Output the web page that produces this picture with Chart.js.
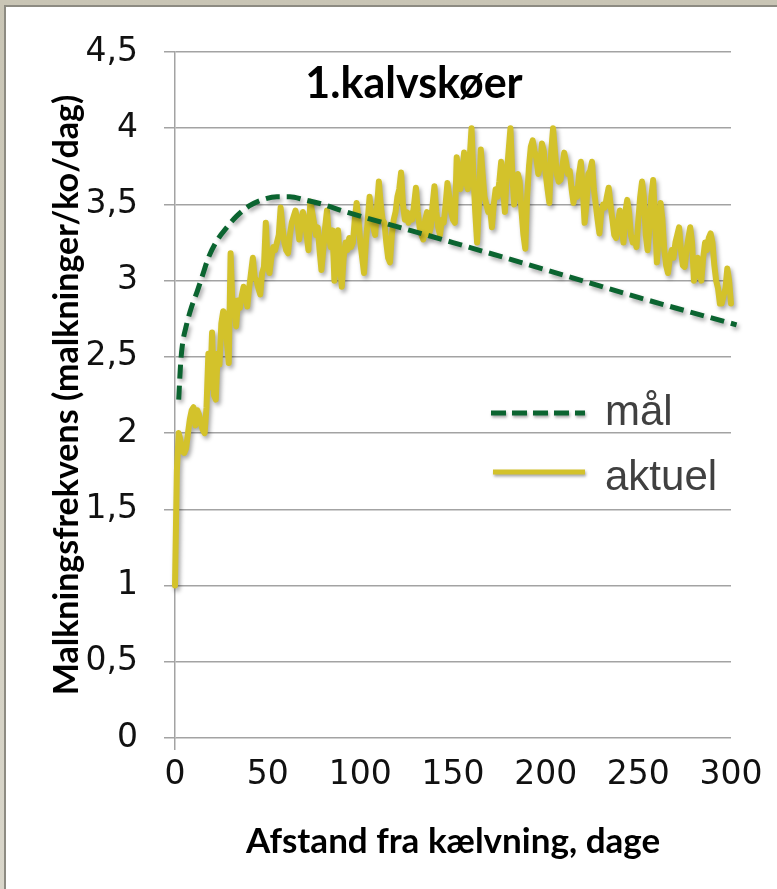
<!DOCTYPE html>
<html>
<head>
<meta charset="utf-8">
<script src="https://cdn.jsdelivr.net/npm/chart.js@4.4.1/dist/chart.umd.min.js"></script>
<style>
  html, body { margin: 0; padding: 0; }
  body { width: 777px; height: 889px; overflow: hidden; position: relative;
         background: linear-gradient(#c9c5b5, #d9d6ca); }
  #panel { position: absolute; left: 4px; top: 5px; right: -10px; bottom: -10px;
           background: #fff; border-left: 2px solid #8d8b82; border-top: 2px solid #8d8b82; }
  #chart { position: absolute; left: 0; top: 0; }
</style>
</head>
<body>
<div id="panel"></div>
<canvas id="chart" width="777" height="889"></canvas>
<script>
const chartTitle = "1.kalvskøer";
const xTitle = "Afstand fra kælvning, dage";
const yTitle = "Malkningsfrekvens (malkninger/ko/dag)";
const seriesNames = ["mål", "aktuel"];
const xTickValues = [0, 50, 100, 150, 200, 250, 300];
const yTickValues = [0, 0.5, 1, 1.5, 2, 2.5, 3, 3.5, 4, 4.5];

// target curve (mål)
const targetDays = [2, 3, 4, 6, 9, 12, 15, 18, 23, 28, 33, 40, 47, 55, 62, 70, 80, 90, 150, 206, 250, 303];
const targetVals = [2.22, 2.45, 2.58, 2.70, 2.83, 2.93, 3.04, 3.15, 3.27, 3.35, 3.42, 3.49, 3.53, 3.55, 3.55, 3.53, 3.50, 3.46, 3.25, 3.05, 2.89, 2.71];

// actual daily values (aktuel), day 0..300
const actualVals = [
  1.00, 1.75, 2.00, 1.95, 1.88, 1.87, 1.90, 2.00, 2.09, 2.15,
  2.17, 2.05, 2.15, 2.12, 2.06, 2.02, 2.00, 2.17, 2.52, 2.30,
  2.66, 2.25, 2.22, 2.52, 2.45, 2.72, 2.80, 2.78, 2.60, 2.46,
  3.18, 2.84, 2.87, 2.70, 2.87, 2.82, 2.90, 2.96, 2.92, 2.83,
  2.95, 3.05, 3.15, 3.02, 3.00, 2.95, 2.91, 3.05, 3.09, 3.38,
  3.10, 3.05, 3.15, 3.22, 3.20, 3.25, 3.30, 3.48, 3.35, 3.25,
  3.20, 3.18, 3.30, 3.38, 3.42, 3.46, 3.40, 3.27, 3.38, 3.45,
  3.40, 3.30, 3.20, 3.52, 3.45, 3.38, 3.30, 3.35, 3.20, 3.07,
  3.20, 3.35, 3.46, 3.30, 3.22, 3.33, 3.00, 3.15, 3.33, 3.10,
  2.96, 3.15, 3.25, 3.20, 3.28, 3.22, 3.25, 3.40, 3.51, 3.40,
  3.25, 3.15, 3.05, 3.25, 3.40, 3.55, 3.42, 3.35, 3.30, 3.48,
  3.65, 3.50, 3.40, 3.38, 3.25, 3.15, 3.12, 3.30, 3.40, 3.45,
  3.55, 3.60, 3.71, 3.50, 3.40, 3.45, 3.38, 3.44, 3.40, 3.50,
  3.61, 3.45, 3.35, 3.30, 3.27, 3.40, 3.45, 3.30, 3.35, 3.50,
  3.62, 3.45, 3.35, 3.30, 3.40, 3.38, 3.50, 3.64, 3.55, 3.45,
  3.40, 3.38, 3.81, 3.70, 3.60, 3.70, 3.84, 3.65, 3.60, 3.80,
  4.00, 3.70, 3.45, 3.25, 3.50, 3.86, 3.70, 3.55, 3.50, 3.45,
  3.48, 3.35, 3.50, 3.60, 3.55, 3.65, 3.78, 3.60, 3.45, 3.70,
  3.85, 4.00, 3.70, 3.50, 3.60, 3.70, 3.65, 3.45, 3.30, 3.21,
  3.55, 3.75, 3.88, 3.92, 3.85, 3.80, 3.70, 3.75, 3.90, 3.85,
  3.70, 3.60, 3.51, 3.85, 4.00, 3.85, 3.70, 3.65, 3.66, 3.75,
  3.84, 3.78, 3.70, 3.72, 3.60, 3.51, 3.60, 3.55, 3.70, 3.78,
  3.60, 3.38, 3.50, 3.70, 3.72, 3.78, 3.60, 3.50, 3.40, 3.31,
  3.45, 3.50, 3.48, 3.55, 3.61, 3.50, 3.40, 3.30, 3.28, 3.38,
  3.46, 3.35, 3.25, 3.45, 3.53, 3.45, 3.30, 3.25, 3.28, 3.22,
  3.40, 3.55, 3.65, 3.55, 3.30, 3.20, 3.35, 3.55, 3.66, 3.40,
  3.12, 3.30, 3.51, 3.40, 3.20, 3.10, 3.05, 3.15, 3.20, 3.15,
  3.25, 3.30, 3.35, 3.20, 3.10, 3.09, 3.20, 3.28, 3.35, 3.25,
  3.00, 3.05, 3.15, 3.05, 3.00, 3.15, 3.25, 3.20, 3.28, 3.31,
  3.25, 3.10, 3.00, 2.95, 2.85, 2.85, 2.90, 2.95, 3.08, 3.00,
  2.85
];

const green = "#0b6430";
const yellow = "#d3c22b";
const gridColor = "#a3a3a3";

const comma = (v) => String(v).replace(".", ",");

// soft drop shadow under the lines, like the original
const shadowPlugin = {
  id: "lineShadow",
  beforeDatasetDraw(chart) {
    const ctx = chart.ctx;
    ctx.save();
    ctx.shadowColor = "rgba(0,0,0,0.35)";
    ctx.shadowBlur = 4;
    ctx.shadowOffsetX = 2;
    ctx.shadowOffsetY = 3;
  },
  afterDatasetDraw(chart) {
    chart.ctx.restore();
  },
};

// title and legend drawn inside the plot area
const overlayPlugin = {
  id: "overlay",
  afterDraw(chart) {
    const { ctx, chartArea } = chart;
    const L = chartArea.left, T = chartArea.top;
    ctx.save();
    ctx.fillStyle = "#000";
    ctx.font = "bold 43px Lato";
    ctx.textAlign = "center";
    ctx.textBaseline = "alphabetic";
    ctx.fillText(chartTitle, L + 239, T + 46);

    ctx.shadowColor = "rgba(0,0,0,0.35)";
    ctx.shadowBlur = 3;
    ctx.shadowOffsetX = 1;
    ctx.shadowOffsetY = 2;
    ctx.lineWidth = 5;
    ctx.strokeStyle = green;
    ctx.setLineDash([15, 6]);
    ctx.beginPath();
    ctx.moveTo(L + 316, T + 361);
    ctx.lineTo(L + 410, T + 361);
    ctx.stroke();
    ctx.setLineDash([]);
    ctx.strokeStyle = yellow;
    ctx.beginPath();
    ctx.moveTo(L + 318, T + 420);
    ctx.lineTo(L + 410, T + 420);
    ctx.stroke();

    ctx.shadowColor = "transparent";
    ctx.fillStyle = "#404040";
    ctx.font = "42px 'Liberation Sans'";
    ctx.textAlign = "left";
    ctx.fillText(seriesNames[0], L + 430, T + 373);
    ctx.fillText(seriesNames[1], L + 430, T + 438);
    ctx.restore();
  },
};

new Chart(document.getElementById("chart"), {
  type: "line",
  data: {
    datasets: [
      {
        label: seriesNames[0],
        data: targetDays.map((d, i) => ({ x: d, y: targetVals[i] })),
        borderColor: green,
        borderWidth: 5,
        borderDash: [14, 7],
        pointRadius: 0,
        cubicInterpolationMode: "monotone",
        fill: false,
        clip: false,
      },
      {
        label: seriesNames[1],
        data: actualVals.map((v, i) => ({ x: i, y: v })),
        borderColor: yellow,
        borderWidth: 6,
        borderJoinStyle: "round",
        borderCapStyle: "round",
        pointRadius: 0,
        tension: 0,
        fill: false,
        clip: false,
      },
    ],
  },
  options: {
    responsive: false,
    animation: false,
    devicePixelRatio: 1,
    layout: { padding: { left: 0, top: 52, right: 46, bottom: 26 } },
    plugins: { legend: { display: false }, tooltip: { enabled: false } },
    scales: {
      x: {
        type: "linear",
        min: 0,
        max: 300,
        afterBuildTicks: (s) => { s.ticks = xTickValues.map((v) => ({ value: v })); },
        afterFit: (s) => { s.height = 125; },
        grid: {
          drawOnChartArea: false,
          drawTicks: true,
          tickLength: 12,
          lineWidth: 1.5,
          color: (c) => (c.index === 0 ? gridColor : "rgba(0,0,0,0)"),
        },
        border: { display: false },
        ticks: {
          color: "#111",
          font: { family: "DejaVu Sans", size: 33 },
          padding: 6,
          maxRotation: 0,
          callback: (v) => comma(v),
        },
        title: {
          display: true,
          text: xTitle,
          color: "#000",
          font: { family: "Lato", weight: "bold", size: 35 },
          padding: { top: 0, bottom: 0 },
        },
      },
      y: {
        min: 0,
        max: 4.5,
        afterBuildTicks: (s) => { s.ticks = yTickValues.map((v) => ({ value: v })); },
        afterFit: (s) => { s.width = 175; },
        grid: { color: gridColor, lineWidth: 1.5, tickLength: 11 },
        border: { color: gridColor, width: 1.5 },
        ticks: {
          color: "#111",
          font: { family: "DejaVu Sans", size: 33 },
          padding: 26,
          callback: (v) => comma(v),
        },
        title: {
          display: true,
          text: yTitle,
          color: "#000",
          font: { family: "Lato", weight: "bold", size: 34 },
          padding: { top: 47, bottom: 0 },
        },
      },
    },
  },
  plugins: [shadowPlugin, overlayPlugin],
});
</script>
</body>
</html>
